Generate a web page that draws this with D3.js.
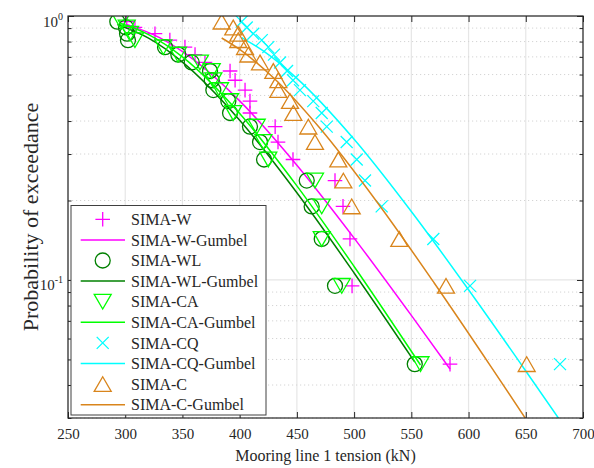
<!DOCTYPE html>
<html>
<head>
<meta charset="utf-8">
<script src="https://cdn.jsdelivr.net/npm/d3@7"></script>
<style>
  body { margin: 0; background: #fff; }
  svg { display: block; }
  svg text { font-family: "Liberation Serif", "Times New Roman", serif !important; fill: #262626; }
</style>
</head>
<body>
<svg id="chart" width="594" height="468" font-family="Liberation Serif"></svg>
<script>
// Empirical exceedance probabilities shared by every sample set (largest first)
const exceedance = [0.952, 0.905, 0.857, 0.810, 0.762, 0.714, 0.667, 0.619, 0.571, 0.524,
                    0.476, 0.429, 0.381, 0.333, 0.286, 0.238, 0.190, 0.143, 0.095, 0.048];

// Sorted maxima of mooring line 1 tension (kN) per simulation variant
const tensionW  = [301.3, 308.5, 326.0, 339.0, 352.2, 361.0, 369.7, 391.6, 396.0, 404.7,
                   409.0, 409.0, 431.0, 433.5, 446.6, 483.3, 490.3, 496.4, 498.2, 583.8];
const tensionWL = [293.1, 300.7, 301.6, 302.4, 334.8, 346.4, 358.1, 374.1, 375.6, 377.0,
                   390.1, 391.6, 409.0, 417.8, 421.3, 458.6, 462.9, 471.7, 483.3, 553.0];
const tensionCA = [296.3, 301.3, 304.2, 308.5, 333.3, 346.1, 365.3, 375.6, 377.0, 382.8,
                   391.6, 394.4, 414.9, 420.7, 425.0, 465.8, 471.7, 471.7, 489.2, 558.0];
const tensionCQ = [401.8, 406.2, 411.9, 419.3, 425.0, 430.0, 435.3, 441.4, 446.6, 452.7,
                   464.3, 471.7, 476.1, 493.5, 502.3, 509.5, 524.1, 569.2, 601.3, 679.9];
const tensionC  = [384.3, 394.4, 398.8, 398.8, 404.7, 407.6, 417.8, 429.4, 433.8, 433.8,
                   444.0, 446.9, 460.0, 465.8, 486.2, 490.6, 497.9, 539.5, 580.3, 650.8];

// Fitted Gumbel exceedance curves: tension (kN) and probability pairs
const gumbelW_x  = [301.3, 330, 360, 400, 450, 500, 550, 583.8];
const gumbelW_p  = [0.9293, 0.8278, 0.6823, 0.4770, 0.2721, 0.1441, 0.0734, 0.0460];
const gumbelWL_x = [293.1, 320, 350, 400, 450, 500, 553];
const gumbelWL_p = [0.9281, 0.8257, 0.6690, 0.4031, 0.2140, 0.1063, 0.04886];
const gumbelCA_x = [296.3, 320, 350, 400, 450, 500, 558];
const gumbelCA_p = [0.9362, 0.8519, 0.6997, 0.4269, 0.2272, 0.1125, 0.04763];
const gumbelCQ_x = [401.8, 420, 450, 500, 550, 600, 650, 679.9];
const gumbelCQ_p = [0.8282, 0.7404, 0.5805, 0.3412, 0.1817, 0.0918, 0.04522, 0.0294];
const gumbelC_x  = [384.3, 400, 430, 470, 520, 570, 620, 650.8];
const gumbelC_p  = [0.8255, 0.7469, 0.5806, 0.3762, 0.1974, 0.0974, 0.04666, 0.02941];

// Axis ticks
const xTicks = [250, 300, 350, 400, 450, 500, 550, 600, 650, 700];
const yMajorTicks = [0.1, 1];
const yMinorTicks = [0.03, 0.04, 0.05, 0.06, 0.07, 0.08, 0.09, 0.2, 0.3, 0.4, 0.5, 0.6, 0.7, 0.8, 0.9];
const yTickExponents = ["-1", "0"];

const labels = ["SIMA-W", "SIMA-W-Gumbel", "SIMA-WL", "SIMA-WL-Gumbel", "SIMA-CA",
                "SIMA-CA-Gumbel", "SIMA-CQ", "SIMA-CQ-Gumbel", "SIMA-C", "SIMA-C-Gumbel"];

const SERIF = '"Liberation Serif", "Times New Roman", serif';

// ---- marker shapes (outline only) ----
const plusShape = { draw(c, s) { const r = Math.sqrt(s); c.moveTo(-r, 0); c.lineTo(r, 0); c.moveTo(0, -r); c.lineTo(0, r); } };
const crossShape = { draw(c, s) { const r = Math.sqrt(s); c.moveTo(-r, -r); c.lineTo(r, r); c.moveTo(-r, r); c.lineTo(r, -r); } };
const ringShape = { draw(c, s) { const r = Math.sqrt(s); c.moveTo(r, 0); c.arc(0, 0, r, 0, 2 * Math.PI); } };
const triDownShape = { draw(c, s) { const w = Math.sqrt(s), h = w * 1.732 / 2;
  c.moveTo(-w, -h); c.lineTo(w, -h); c.lineTo(0, h); c.closePath(); } };
const triUpShape = { draw(c, s) { const w = Math.sqrt(s), h = w * 1.732 / 2;
  c.moveTo(0, -h); c.lineTo(w, h); c.lineTo(-w, h); c.closePath(); } };

const series = [
  { pts: tensionW,  color: "#ff00ff", shape: plusShape,    r: 7.3, fit: [gumbelW_x,  gumbelW_p] },
  { pts: tensionWL, color: "#008000", shape: ringShape,    r: 7.5, fit: [gumbelWL_x, gumbelWL_p] },
  { pts: tensionCA, color: "#00ff00", shape: triDownShape, r: 8.5, fit: [gumbelCA_x, gumbelCA_p] },
  { pts: tensionCQ, color: "#00ffff", shape: crossShape,   r: 6.0, fit: [gumbelCQ_x, gumbelCQ_p] },
  { pts: tensionC,  color: "#d9851c", shape: triUpShape,   r: 8.5, fit: [gumbelC_x,  gumbelC_p] }
];

const L = 68, R = 583, T = 16, B = 418;
const svg = d3.select("#chart");
const x = d3.scaleLinear().domain([250, 700]).range([L, R]);
const y = d3.scaleLog().domain([0.03, 1]).range([B, T]);

// ---- grid ----
const grid = svg.append("g");
grid.selectAll("line.vg").data(xTicks).join("line")
  .attr("x1", d => x(d)).attr("x2", d => x(d)).attr("y1", T).attr("y2", B)
  .attr("stroke", "#e6e6e6").attr("stroke-width", 1.2);
grid.selectAll("line.hm").data(yMinorTicks).join("line")
  .attr("x1", L).attr("x2", R).attr("y1", d => y(d)).attr("y2", d => y(d))
  .attr("stroke", "#d4d4d4").attr("stroke-width", 1).attr("stroke-dasharray", "1.2,2.8");
grid.selectAll("line.hj").data(yMajorTicks).join("line")
  .attr("x1", L).attr("x2", R).attr("y1", d => y(d)).attr("y2", d => y(d))
  .attr("stroke", "#e6e6e6").attr("stroke-width", 1.2);

// ---- data ----
svg.append("defs").append("clipPath").attr("id", "plotclip")
  .append("rect").attr("x", L).attr("y", T).attr("width", R - L).attr("height", B - T);
const plot = svg.append("g").attr("clip-path", "url(#plotclip)");
const line = d3.line().x(d => x(d[0])).y(d => y(d[1])).curve(d3.curveMonotoneX);

series.forEach(s => {
  const sym = d3.symbol().type(s.shape).size(s.r * s.r);
  plot.append("g").selectAll("path").data(s.pts.map((v, i) => [v, exceedance[i]])).join("path")
    .attr("transform", d => `translate(${x(d[0])},${y(d[1])})`)
    .attr("d", sym).attr("fill", "none").attr("stroke", s.color).attr("stroke-width", 1.3);
  plot.append("path").datum(s.fit[0].map((v, i) => [v, s.fit[1][i]]))
    .attr("d", line).attr("fill", "none").attr("stroke", s.color).attr("stroke-width", 1.5);
});

// ---- axes ----
const axisCol = "#262626";
function style(g) {
  g.attr("font-family", SERIF);
  g.select(".domain").remove();
  g.selectAll(".tick line").attr("stroke", axisCol).attr("stroke-width", 1);
}
const xb = svg.append("g").attr("transform", `translate(0,${B})`)
  .call(d3.axisBottom(x).tickValues(xTicks).tickSizeInner(-6).tickSizeOuter(0).tickPadding(10).tickFormat(d3.format("d")))
  .call(style);
xb.selectAll("text").attr("font-size", 15).style("font-family", SERIF).attr("fill", axisCol);
svg.append("g").attr("transform", `translate(0,${T})`)
  .call(d3.axisTop(x).tickValues(xTicks).tickSizeInner(-6).tickSizeOuter(0).tickFormat(""))
  .call(style);

const yl = svg.append("g").attr("transform", `translate(${L},0)`)
  .call(d3.axisLeft(y).tickValues(yMajorTicks).tickSizeInner(-6).tickSizeOuter(0).tickFormat(""))
  .call(style);
svg.append("g").attr("transform", `translate(${L},0)`)
  .call(d3.axisLeft(y).tickValues(yMinorTicks).tickSizeInner(-3.5).tickSizeOuter(0).tickFormat(""))
  .call(style);
svg.append("g").attr("transform", `translate(${R},0)`)
  .call(d3.axisRight(y).tickValues(yMajorTicks).tickSizeInner(-6).tickSizeOuter(0).tickFormat(""))
  .call(style);
svg.append("g").attr("transform", `translate(${R},0)`)
  .call(d3.axisRight(y).tickValues(yMinorTicks).tickSizeInner(-3.5).tickSizeOuter(0).tickFormat(""))
  .call(style);

// power-of-ten labels on the major y ticks
yl.selectAll(".tick").each(function(d, i) {
  const t = d3.select(this).select("text")
    .attr("x", -5).attr("dy", null).attr("y", 10).attr("text-anchor", "end")
    .attr("font-size", 15).style("font-family", SERIF).attr("fill", axisCol);
  t.text(null);
  t.append("tspan").text("10");
  t.append("tspan").attr("font-size", 10).attr("dy", -7).text(yTickExponents[i]);
});

// axes box
svg.append("rect").attr("x", L).attr("y", T).attr("width", R - L).attr("height", B - T)
  .attr("fill", "none").attr("stroke", axisCol).attr("stroke-width", 1.2);

// ---- axis titles ----
svg.append("text").attr("x", (L + R) / 2).attr("y", 461).attr("text-anchor", "middle")
  .attr("font-size", 16).style("font-family", SERIF).text("Mooring line 1 tension (kN)");
svg.append("text").attr("transform", `translate(30,${(T + B) / 2}) rotate(-90)`)
  .attr("text-anchor", "middle").attr("dy", "0.35em").attr("font-size", 22)
  .style("font-family", SERIF).text("Probability of exceedance");

// ---- legend ----
const lg = svg.append("g");
lg.append("rect").attr("x", 71).attr("y", 205.5).attr("width", 195).attr("height", 209.5)
  .attr("fill", "#fff").attr("stroke", "#404040").attr("stroke-width", 1);
labels.forEach((lab, i) => {
  const s = series[Math.floor(i / 2)];
  const cy = 219.3 + i * 20.6;
  if (i % 2 === 0) {
    lg.append("path").attr("transform", `translate(102.7,${cy})`)
      .attr("d", d3.symbol().type(s.shape).size(s.r * s.r))
      .attr("fill", "none").attr("stroke", s.color).attr("stroke-width", 1.3);
  } else {
    lg.append("line").attr("x1", 80.7).attr("x2", 125).attr("y1", cy).attr("y2", cy)
      .attr("stroke", s.color).attr("stroke-width", 1.5);
  }
  lg.append("text").attr("x", 131).attr("y", cy).attr("dy", "0.35em")
    .attr("font-size", 16).style("font-family", SERIF).text(lab);
});
</script>
</body>
</html>
